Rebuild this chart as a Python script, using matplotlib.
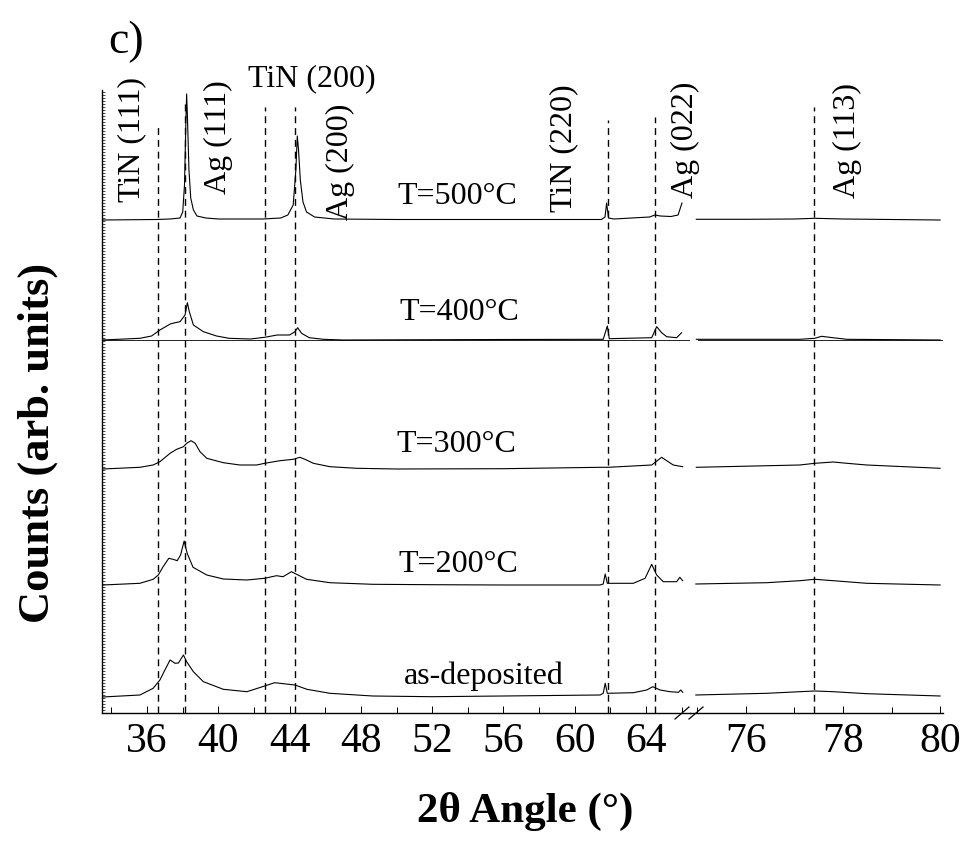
import matplotlib; matplotlib.use("Agg")
import matplotlib.pyplot as plt
from matplotlib.lines import Line2D
from matplotlib.ticker import MultipleLocator, FixedLocator, NullFormatter
import numpy as np

plt.rcParams["font.family"] = ["Liberation Serif", "DejaVu Serif"]

# ---- data: 2-theta (deg) vs intensity (arb.) ----
LABELS = ["as-deposited", "T=200°C", "T=300°C", "T=400°C", "T=500°C"]
OFFSETS = [16, 128, 244, 373, 493]

# left segment (33.5 - 66 deg)
AD_X = [33.5, 35.6, 36.34, 36.72, 37.0, 37.29, 37.57, 37.76, 38.04, 38.22, 38.6, 39.16, 40.28, 41.6, 42.6,
        43.16, 43.8, 44.3, 44.97, 46.26, 48.66, 52.0, 56.0, 61.42, 61.6, 61.71, 61.83, 63.29, 64.04, 64.38,
        64.79, 65.35, 65.82, 65.95, 66.06]
AD_Y = [0, 2, 8.7, 17, 27, 37, 33.7, 34, 42, 35.3, 25.3, 15.3, 7.7, 5.3, 11,
        14.3, 13, 12, 7.7, 3.7, 1, 0.3, 1, 2, 3.7, 13.7, 3.7, 4.3, 7, 10.3,
        7, 5.3, 4.7, 7, 4.7]
T200_X = [33.5, 35.6, 36.34, 36.63, 36.9, 37.22, 37.46, 37.69, 37.88, 38.08, 38.25, 38.58, 39.35, 40.28, 41.6,
          42.6, 43.26, 43.63, 44.1, 44.47, 44.95, 46.26, 48.66, 52.0, 56.0, 61.42, 61.6, 61.71, 61.83, 63.29,
          63.95, 64.32, 64.6, 64.97, 65.72, 65.9, 66.06]
T200_Y = [0, 1.7, 5.7, 10, 18.3, 26.7, 25.7, 24.3, 30, 44, 31.7, 17.7, 10, 6, 5,
          6.7, 9.3, 8.3, 13.3, 10, 5.7, 2.3, 0.7, 0.3, 0, 0, 1, 11, 1.7, 1.7,
          6.7, 20.7, 10, 3.3, 3.3, 7.7, 4.3]
T300_X = [33.5, 35.6, 36.34, 36.72, 37.29, 37.66, 38.04, 38.22, 38.47, 38.7, 38.97, 39.35, 40.28, 41.21, 42.15,
          42.6, 43.46, 44.2, 44.58, 44.86, 45.33, 46.26, 47.76, 50.0, 56.0, 61.42, 61.88, 64.32, 64.88, 65.16,
          65.53, 66.06]
T300_Y = [0, 1.7, 4, 7.3, 15.7, 19.7, 22.3, 25.7, 28.3, 25.7, 17.3, 10.7, 6.3, 4, 4,
          5.7, 8.3, 9.7, 11.7, 9.7, 5.7, 2.3, 0.7, 0, 0.3, 1.7, 1.7, 4, 11.7, 8.3,
          4, 2.3]
T400_X = [33.5, 35.6, 36.25, 36.72, 37.3, 37.57, 37.85, 38.13, 38.26, 38.37, 38.6, 39.16, 39.9, 40.6, 41.8,
          42.6, 43.3, 44.0, 44.3, 44.45, 44.67, 45.1, 45.9, 47.0, 56.0, 61.6, 61.83, 61.94, 64.32, 64.6,
          64.88, 65.16, 65.72, 66.0]
T400_Y = [0, 1.7, 4, 10, 16, 17.3, 18.3, 25, 37.3, 28.3, 15, 8.3, 4, 1.7, 1,
          2.7, 5, 5, 8.3, 12.3, 6.7, 2.3, 0.7, 0, 0.5, 0.7, 14, 1.3, 2.3, 13.3,
          7.3, 3.3, 2.3, 7.3]
T500_X = [33.5, 36.5, 37.3, 37.85, 38.0, 38.1, 38.18, 38.22, 38.27, 38.35, 38.45, 38.6, 38.8, 39.3, 40.0,
          42.5, 43.5, 43.9, 44.2, 44.35, 44.43, 44.5, 44.6, 44.75, 44.95, 45.4, 46.5, 50.0, 61.5, 61.7,
          61.79, 61.9, 62.2, 64.2, 64.5, 64.8, 65.4, 65.8, 66.02]
T500_Y = [0, 0.5, 1, 2, 8, 35, 100, 126, 100, 50, 22, 10, 4, 2, 1,
          1, 2, 5, 15, 50, 84, 70, 40, 18, 8, 3, 1, 0.5, 0.5, 3,
          17, 2, 1, 3, 5, 4, 3.5, 5, 17]

# right segment (75 - 80 deg)
AD_XR = [74.97, 76.43, 77.11, 77.42, 77.8, 78.49, 80.0]
AD_YR = [2, 3.7, 5.3, 6, 5.3, 3.3, 1]
T200_XR = [74.97, 76.43, 77.11, 77.42, 77.8, 78.49, 80.0]
T200_YR = [1, 2.3, 4.3, 5.7, 4.3, 1.7, 0]
T300_XR = [74.98, 77.11, 77.42, 77.8, 78.08, 78.49, 80.0]
T300_YR = [1.7, 4, 5.7, 7, 5.7, 4, 0.7]
T400_XR = [74.98, 77.11, 77.42, 77.56, 77.79, 78.08, 80.0]
T400_YR = [0.7, 0.7, 1.7, 3.7, 2.3, 0.7, 0]
T500_XR = [74.98, 76.0, 77.0, 77.42, 78.0, 80.0]
T500_YR = [0.7, 0.7, 1, 1.7, 1, 0]

# reference peak positions (deg) and how high their dashed markers reach
REF_POS_L = [36.62, 38.13, 42.6, 44.3, 61.85, 64.5]
REF_TOP_L = [590, 613, 606, 606, 593, 596]
REF_POS_R = [77.4]
REF_TOP_R = [606]

LEFT = [(AD_X, AD_Y), (T200_X, T200_Y), (T300_X, T300_Y), (T400_X, T400_Y), (T500_X, T500_Y)]
RIGHT = [(AD_XR, AD_YR), (T200_XR, T200_YR), (T300_XR, T300_YR), (T400_XR, T400_YR), (T500_XR, T500_YR)]

W, H = 967, 843
def fx(px): return px / W
def fy(py): return 1 - py / H

fig = plt.figure(figsize=(W / 100, H / 100), dpi=100)
axL = fig.add_axes([fx(102), fy(713), fx(690) - fx(102), fy(90) - fy(713)])
axR = fig.add_axes([fx(690), fy(713), fx(943) - fx(690), fy(90) - fy(713)])
axR.patch.set_visible(False)   # keep labels of the left panel visible across the break

for (x, y), off in zip(LEFT, OFFSETS):
    axL.plot(x, np.array(y) + off, color="k", lw=0.8)
for (x, y), off in zip(RIGHT, OFFSETS):
    axR.plot(x, np.array(y) + off, color="k", lw=0.8)
axL.axhline(OFFSETS[3], color="k", lw=0.6)
axR.axhline(OFFSETS[3], xmin=0.03, color="k", lw=0.6)

DASH = (0, (5, 3.5))
axL.vlines(REF_POS_L, 0, REF_TOP_L, colors="k", linestyles=DASH, lw=1.0)
axR.vlines(REF_POS_R, 0, REF_TOP_R, colors="k", linestyles=DASH, lw=1.0)

axL.set_xlim(33.47, 66.47); axR.set_xlim(74.85, 80.06)
for ax in (axL, axR):
    ax.set_ylim(0, 623)
    ax.spines["top"].set_visible(False); ax.spines["right"].set_visible(False)
    ax.spines["bottom"].set_linewidth(1.0)
    ax.tick_params(axis="x", which="both", direction="in", width=0.7, labelsize=30, pad=7)
    ax.tick_params(axis="x", which="major", length=5)
    ax.tick_params(axis="x", which="minor", length=4)
axR.spines["left"].set_visible(False)
axR.set_yticks([])
axL.spines["left"].set_linewidth(1.0)
axL.set_xticks([36, 40, 44, 48, 52, 56, 60, 64]); axL.xaxis.set_minor_locator(MultipleLocator(2))
axR.set_xticks([76, 78, 80]); axR.xaxis.set_minor_locator(MultipleLocator(1))
axL.yaxis.set_major_locator(FixedLocator([]))
axL.yaxis.set_minor_locator(FixedLocator(np.arange(0, 623, 3)))
axL.yaxis.set_minor_formatter(NullFormatter())
axL.tick_params(axis="y", which="minor", direction="in", length=2, width=0.5)

# break marks on the x axis
for x0 in (675, 689):
    fig.add_artist(Line2D([fx(x0), fx(x0 + 14)], [fy(719), fy(707)], transform=fig.transFigure, color="k", lw=0.9))

# labels
LS = 23
axL.text(35.15, 574, "TiN (111)", rotation=90, ha="center", va="center", fontsize=LS)
axL.text(40.0, 576, "Ag (111)", rotation=90, ha="center", va="center", fontsize=LS)
axL.text(46.83, 551, "Ag (200)", rotation=90, ha="center", va="center", fontsize=LS)
axL.text(45.25, 634, "TiN (200)", ha="center", va="center", fontsize=LS)
axL.text(59.4, 565, "TiN (220)", rotation=90, ha="center", va="center", fontsize=LS)
axL.text(66.24, 573, "Ag (022)", rotation=90, ha="center", va="center", fontsize=LS, zorder=5)
axR.text(78.1, 573, "Ag (113)", rotation=90, ha="center", va="center", fontsize=LS)
for lab, (lx, ly) in zip(LABELS, [(54.9, 37), (53.45, 149), (53.34, 269), (53.5, 400), (53.39, 516)]):
    axL.text(lx, ly, lab, ha="center", va="center", fontsize=LS)

fig.text(fx(126), fy(42), "c)", ha="center", va="center", fontsize=33)
fig.text(fx(38), fy(443), "Counts (arb. units)", rotation=90, ha="center", va="center",
         fontsize=32, fontweight="bold")
fig.text(fx(525), fy(811), "2θ Angle (°)", ha="center", va="center", fontsize=31, fontweight="bold")

fig.savefig("out.png", dpi=100)
